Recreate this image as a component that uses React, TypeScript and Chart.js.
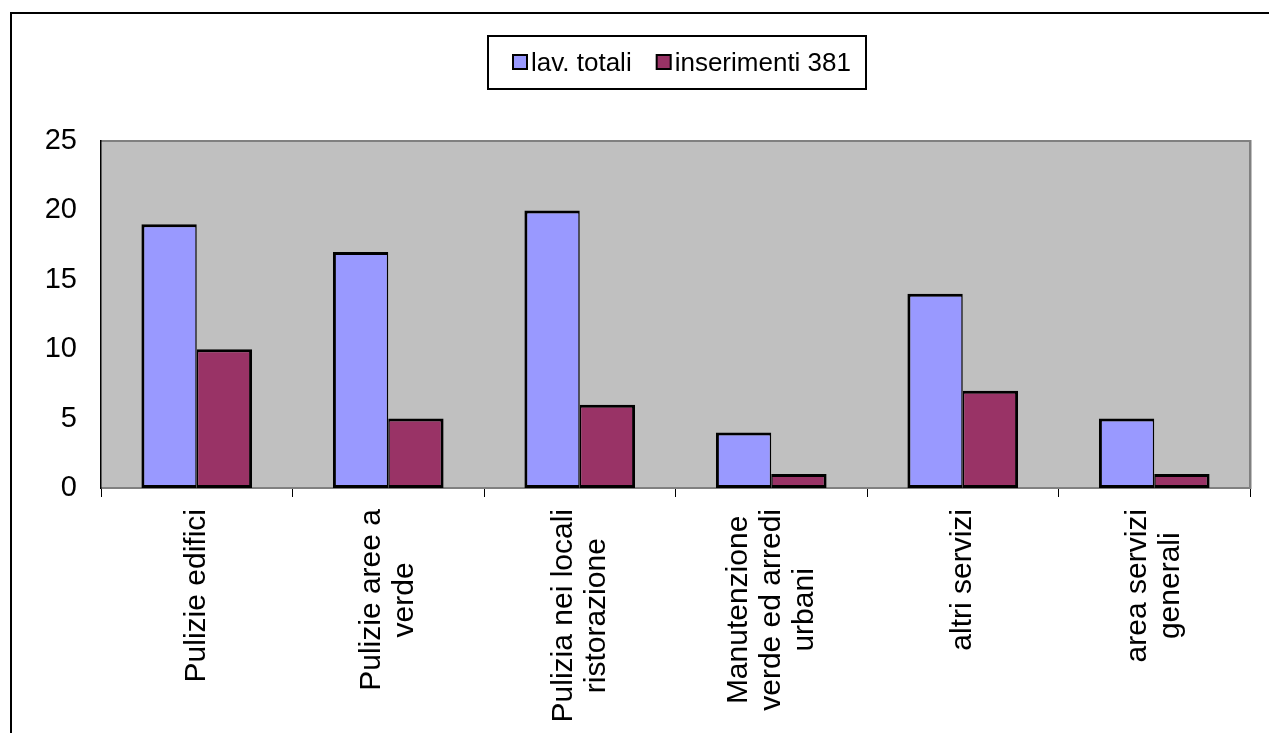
import React, { useEffect, useRef } from "react";
import { Chart, registerables } from "chart.js";

Chart.register(...registerables);

const categories: string[][] = [
  ["Pulizie edifici"],
  ["Pulizie aree a", "verde"],
  ["Pulizia nei locali", "ristorazione"],
  ["Manutenzione", "verde ed arredi", "urbani"],
  ["altri servizi"],
  ["area servizi", "generali"],
];
const seriesNames = ["lav. totali", "inserimenti 381"];
const lavTotali = [19, 17, 20, 4, 14, 5];
const inserimenti381 = [10, 5, 6, 1, 7, 1];
const yMin = 0;
const yMax = 25;
const yStep = 5;

const FONT = '"Liberation Sans", Arial, Helvetica, sans-serif';
const BLUE = "#9999FF";
const MAROON = "#993366";
const PLOT_BG = "#C0C0C0";
const AXIS_GRAY = "#808080";

const decorPlugin = {
  id: "decor",
  beforeDraw(chart: any) {
    const { ctx, chartArea: a, width, height } = chart;
    ctx.save();
    ctx.fillStyle = "#ffffff";
    ctx.fillRect(0, 0, width, height);
    ctx.strokeStyle = "#000";
    ctx.lineWidth = 2;
    ctx.strokeRect(11, 13, width + 40, height + 40);
    ctx.fillStyle = PLOT_BG;
    ctx.fillRect(a.left, a.top, a.right - a.left, a.bottom - a.top);
    ctx.restore();
  },
  beforeDatasetsDraw(chart: any) {
    const { ctx, chartArea: a } = chart;
    ctx.save();
    ctx.fillStyle = AXIS_GRAY;
    ctx.fillRect(a.left, a.top - 1, a.right - a.left + 1, 2);
    ctx.fillRect(a.right - 1, a.top - 1, 2.5, a.bottom - a.top + 2);
    ctx.fillRect(a.left, a.bottom - 1, a.right - a.left + 1, 2);
    ctx.fillStyle = "#000";
    ctx.fillRect(a.left - 1, a.top - 1, 1.5, a.bottom - a.top + 2);
    ctx.restore();
  },
  afterDraw(chart: any) {
    const { ctx } = chart;
    const xScale = chart.scales.x;
    ctx.save();
    ctx.fillStyle = "#000";
    ctx.font = `30px ${FONT}`;
    ctx.textAlign = "center";
    ctx.textBaseline = "middle";
    const lineH = 33;
    const topY = xScale.top + 21;
    const labels: any[] = chart.data.labels;
    labels.forEach((lab: any, i: number) => {
      const lines: string[] = Array.isArray(lab) ? lab : [lab];
      const w = Math.max(...lines.map((l) => ctx.measureText(l).width));
      const cy = topY + w / 2;
      const px = xScale.getPixelForTick(i);
      const n = lines.length;
      lines.forEach((line, j) => {
        const lx = px + (j - (n - 1) / 2) * lineH;
        ctx.save();
        ctx.translate(lx, cy);
        ctx.rotate(-Math.PI / 2);
        ctx.fillText(line, 0, 0);
        ctx.restore();
      });
    });

    ctx.strokeStyle = "#000";
    ctx.lineWidth = 2;
    ctx.strokeRect(488, 36, 378, 53);
    ctx.font = `26px ${FONT}`;
    ctx.textAlign = "left";
    ctx.textBaseline = "alphabetic";
    let x = 512;
    chart.data.datasets.forEach((ds: any) => {
      ctx.fillStyle = "#000";
      ctx.fillRect(x, 54, 16, 16);
      ctx.fillStyle = ds.backgroundColor;
      ctx.fillRect(x + 2, 56, 12, 12);
      ctx.fillStyle = "#000";
      const tx = x + 19;
      ctx.fillText(ds.label, tx, 71);
      x = tx + ctx.measureText(ds.label).width + 24;
    });
    ctx.restore();
  },
};

export default function App() {
  const canvasRef = useRef<HTMLCanvasElement | null>(null);

  useEffect(() => {
    document.body.style.margin = "0";
    const canvas = canvasRef.current;
    if (!canvas) return;
    const chart = new Chart(canvas, {
      type: "bar",
      data: {
        labels: categories,
        datasets: [
          {
            label: seriesNames[0],
            data: lavTotali,
            backgroundColor: BLUE,
            borderColor: "#000",
            borderWidth: { top: 3, left: 3, right: 1.5, bottom: 3 },
            borderSkipped: false,
          },
          {
            label: seriesNames[1],
            data: inserimenti381,
            backgroundColor: MAROON,
            borderColor: "#000",
            borderWidth: { top: 3, left: 1.5, right: 3, bottom: 3 },
            borderSkipped: false,
          },
        ],
      },
      options: {
        responsive: false,
        animation: false,
        devicePixelRatio: 1,
        layout: { padding: { top: 141, right: 19, left: 0, bottom: 0 } },
        datasets: {
          bar: { categoryPercentage: 0.578, barPercentage: 1 },
        },
        plugins: {
          legend: { display: false },
          title: { display: false },
          tooltip: { enabled: false },
        },
        scales: {
          x: {
            type: "category",
            offset: true,
            grid: {
              display: true,
              drawOnChartArea: false,
              drawTicks: true,
              tickLength: 9,
              color: "#000",
              lineWidth: 1,
              offset: true,
            },
            border: { display: false },
            ticks: { display: false },
            afterFit: (scale: any) => {
              scale.height = 245;
            },
          },
          y: {
            min: yMin,
            max: yMax,
            grid: { display: false, drawTicks: false },
            border: { display: false },
            ticks: {
              stepSize: yStep,
              color: "#000",
              padding: 24,
              font: { family: FONT, size: 29 },
            },
            afterFit: (scale: any) => {
              scale.width = 101;
            },
          },
        },
      },
      plugins: [decorPlugin],
    } as any);
    return () => chart.destroy();
  }, []);

  return (
    <div style={{ position: "fixed", left: 0, top: 0, width: 1269, height: 733 }}>
      <canvas ref={canvasRef} width={1269} height={733} style={{ display: "block" }} />
    </div>
  );
}
